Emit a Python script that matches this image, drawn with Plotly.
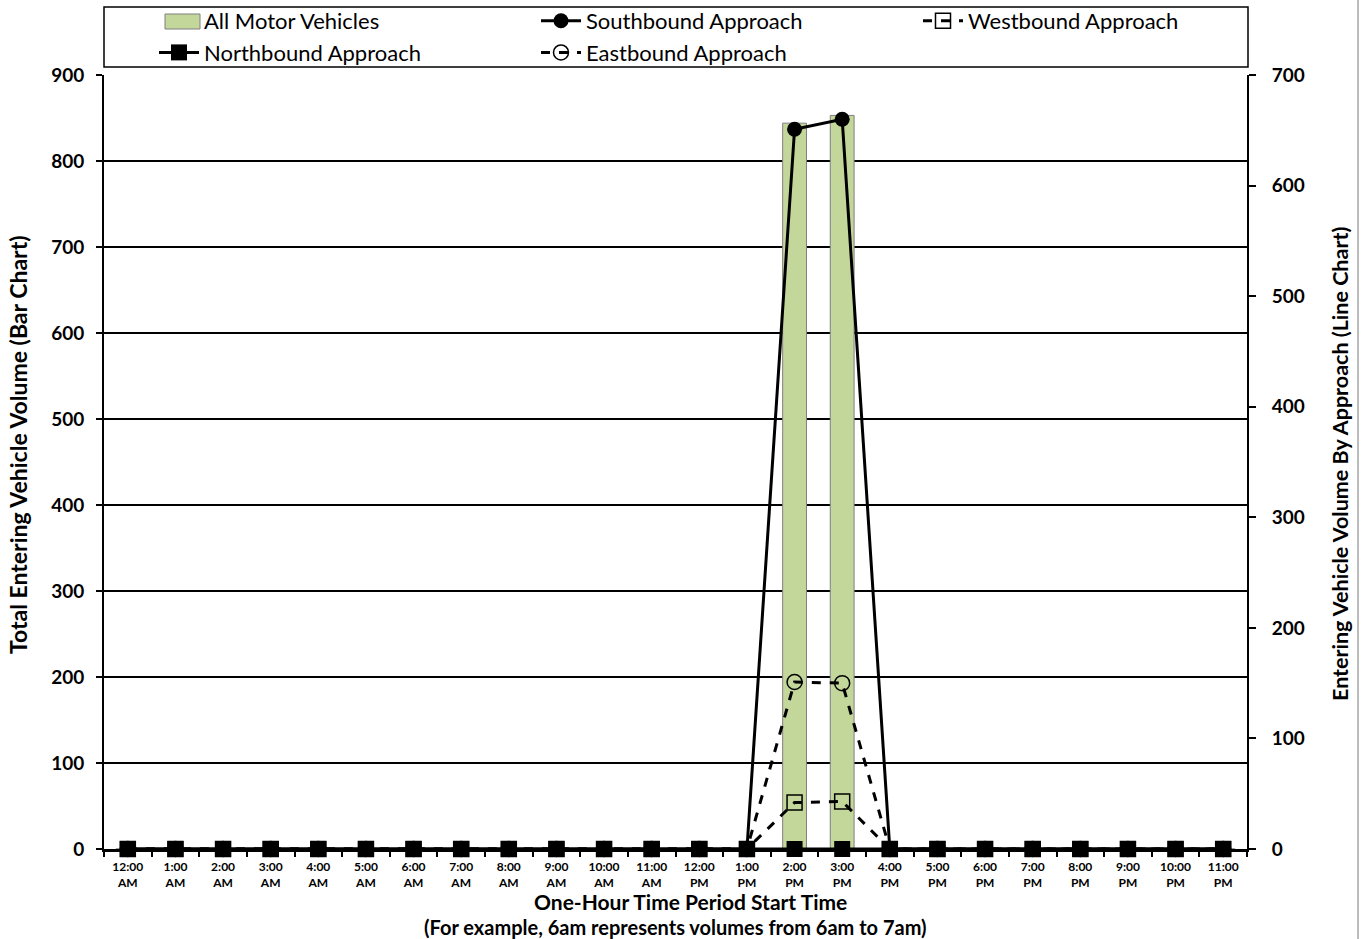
import plotly.graph_objects as go

# One-hour period start times (category axis labels)
hour_labels = [
    "12:00<br>AM", "1:00<br>AM", "2:00<br>AM", "3:00<br>AM", "4:00<br>AM", "5:00<br>AM",
    "6:00<br>AM", "7:00<br>AM", "8:00<br>AM", "9:00<br>AM", "10:00<br>AM", "11:00<br>AM",
    "12:00<br>PM", "1:00<br>PM", "2:00<br>PM", "3:00<br>PM", "4:00<br>PM", "5:00<br>PM",
    "6:00<br>PM", "7:00<br>PM", "8:00<br>PM", "9:00<br>PM", "10:00<br>PM", "11:00<br>PM",
]

# Total entering volume (bars, left axis)
all_motor_vehicles = [0, 0, 0, 0, 0, 0, 0, 0, 0, 0, 0, 0, 0, 0, 844, 853, 0, 0, 0, 0, 0, 0, 0, 0]

# Entering volume by approach (lines, right axis)
southbound = [0, 0, 0, 0, 0, 0, 0, 0, 0, 0, 0, 0, 0, 0, 651, 660, 0, 0, 0, 0, 0, 0, 0, 0]
westbound = [0, 0, 0, 0, 0, 0, 0, 0, 0, 0, 0, 0, 0, 0, 42, 43, 0, 0, 0, 0, 0, 0, 0, 0]
eastbound = [0, 0, 0, 0, 0, 0, 0, 0, 0, 0, 0, 0, 0, 0, 151, 150, 0, 0, 0, 0, 0, 0, 0, 0]
northbound = [0, 0, 0, 0, 0, 0, 0, 0, 0, 0, 0, 0, 0, 0, 0, 0, 0, 0, 0, 0, 0, 0, 0, 0]

left_ticks = [0, 100, 200, 300, 400, 500, 600, 700, 800, 900]
right_ticks = [0, 100, 200, 300, 400, 500, 600, 700]

FONT = "Lato"
BAR_GREEN = "#C4D79B"
BAR_EDGE = "#7F7F7F"
W, H = 1367, 939
L, R, T, B = 104, 120, 75, 90
PW, PH = W - L - R, H - T - B


def px_x(x):
    return (x - L) / PW


def px_y(y):
    return (H - B - y) / PH


fig = go.Figure()

fig.add_trace(go.Bar(
    x=hour_labels, y=all_motor_vehicles, name="All Motor Vehicles",
    marker=dict(color=BAR_GREEN, line=dict(color=BAR_EDGE, width=1)),
    width=0.5, yaxis="y", showlegend=False,
))
# Legend-only entry for the bars; its wide swatch is drawn as a shape below
fig.add_trace(go.Scatter(
    x=[None], y=[None], name="All Motor Vehicles", mode="markers",
    marker=dict(color="rgba(0,0,0,0)", size=1), hoverinfo="skip", legendrank=1,
))
fig.add_trace(go.Scatter(
    x=hour_labels, y=southbound, name="Southbound Approach", yaxis="y2",
    mode="lines+markers", line=dict(color="black", width=3), cliponaxis=False,
    marker=dict(symbol="circle", size=15, color="black"), legendrank=2,
))
fig.add_trace(go.Scatter(
    x=hour_labels, y=westbound, name="Westbound Approach", yaxis="y2",
    mode="lines+markers", line=dict(color="black", width=3, dash="dash"), cliponaxis=False,
    marker=dict(symbol="square-open", size=15, color="black", line=dict(width=1.5)),
    legendrank=3,
))
fig.add_trace(go.Scatter(
    x=hour_labels, y=eastbound, name="Eastbound Approach", yaxis="y2",
    mode="lines+markers", line=dict(color="black", width=3, dash="dash"), cliponaxis=False,
    marker=dict(symbol="circle-open", size=15, color="black", line=dict(width=1.5)),
    legendrank=5,
))
fig.add_trace(go.Scatter(
    x=hour_labels, y=northbound, name="Northbound Approach", yaxis="y2",
    mode="lines+markers", line=dict(color="black", width=3), cliponaxis=False,
    marker=dict(symbol="square", size=16, color="black"), legendrank=4,
))

fig.update_layout(
    width=W, height=H,
    margin=dict(l=L, r=R, t=T, b=B, autoexpand=False),
    paper_bgcolor="white", plot_bgcolor="white",
    font=dict(family=FONT, color="black"),
    showlegend=True,
    legend=dict(
        orientation="h", x=px_x(154), xanchor="left", y=px_y(0), yanchor="top",
        entrywidth=327, entrywidthmode="pixels",
        borderwidth=0, bgcolor="rgba(0,0,0,0)",
        font=dict(family=FONT, size=22, color="black"),
        itemwidth=40, tracegroupgap=0, traceorder="normal",
    ),
    xaxis=dict(
        type="category", tickson="boundaries", ticks="outside", ticklen=5,
        tickcolor="black", tickwidth=1.5,
        showline=True, linecolor="black", linewidth=2.5,
        showgrid=False, zeroline=False, ticklabelstandoff=5,
        tickfont=dict(family=FONT, size=12, color="black", weight="bold"),
        range=[-0.5, 23.5],
    ),
    yaxis=dict(
        range=[0, 900], tickvals=left_ticks, ticks="outside", ticklen=6,
        tickcolor="black", tickwidth=1.5,
        showline=True, linecolor="black", linewidth=2,
        showgrid=True, gridcolor="black", gridwidth=1.5, zeroline=False,
        ticklabelstandoff=8,
        tickfont=dict(family=FONT, size=19, color="black", weight="bold"),
    ),
    yaxis2=dict(
        range=[0, 700], tickvals=right_ticks, overlaying="y", side="right",
        ticks="outside", ticklen=7, tickcolor="black", tickwidth=1.5,
        showline=True, linecolor="black", linewidth=2,
        showgrid=False, zeroline=False, ticklabelstandoff=12,
        tickfont=dict(family=FONT, size=19, color="black", weight="bold"),
    ),
)

# Legend frame
fig.add_shape(
    type="rect", xref="paper", yref="paper",
    x0=px_x(104), x1=px_x(1248), y0=px_y(67), y1=px_y(7),
    line=dict(color="black", width=1.5), fillcolor="rgba(0,0,0,0)", layer="below",
)
# Wide swatch for the bar legend entry
fig.add_shape(
    type="rect", xref="paper", yref="paper",
    x0=px_x(165), x1=px_x(200), y0=px_y(29), y1=px_y(14),
    line=dict(color=BAR_EDGE, width=1), fillcolor=BAR_GREEN, layer="above",
)

# Axis titles
fig.add_annotation(
    text="Total Entering Vehicle Volume (Bar Chart)", textangle=-90,
    xref="paper", yref="paper", x=px_x(18), y=px_y(445),
    xanchor="center", yanchor="middle", showarrow=False,
    font=dict(family=FONT, size=23, color="black", weight="bold"),
)
fig.add_annotation(
    text="Entering Vehicle Volume By Approach (Line Chart)", textangle=-90,
    xref="paper", yref="paper", x=px_x(1340), y=px_y(464),
    xanchor="center", yanchor="middle", showarrow=False,
    font=dict(family=FONT, size=21.5, color="black", weight="bold"),
)
fig.add_annotation(
    text="One-Hour Time Period Start Time",
    xref="paper", yref="paper", x=px_x(690), y=px_y(901),
    xanchor="center", yanchor="middle", showarrow=False,
    font=dict(family=FONT, size=21, color="black", weight="bold"),
)
fig.add_annotation(
    text="(For example, 6am represents volumes from 6am to 7am)",
    xref="paper", yref="paper", x=px_x(675), y=px_y(927),
    xanchor="center", yanchor="middle", showarrow=False,
    font=dict(family=FONT, size=20, color="black", weight="bold"),
)

# Chart-area border on the right edge
fig.add_shape(
    type="line", xref="paper", yref="paper",
    x0=px_x(1358), x1=px_x(1358), y0=px_y(H + 5), y1=px_y(-5),
    line=dict(color="#A6A6A6", width=1.5),
)

fig.write_html("out.html")
